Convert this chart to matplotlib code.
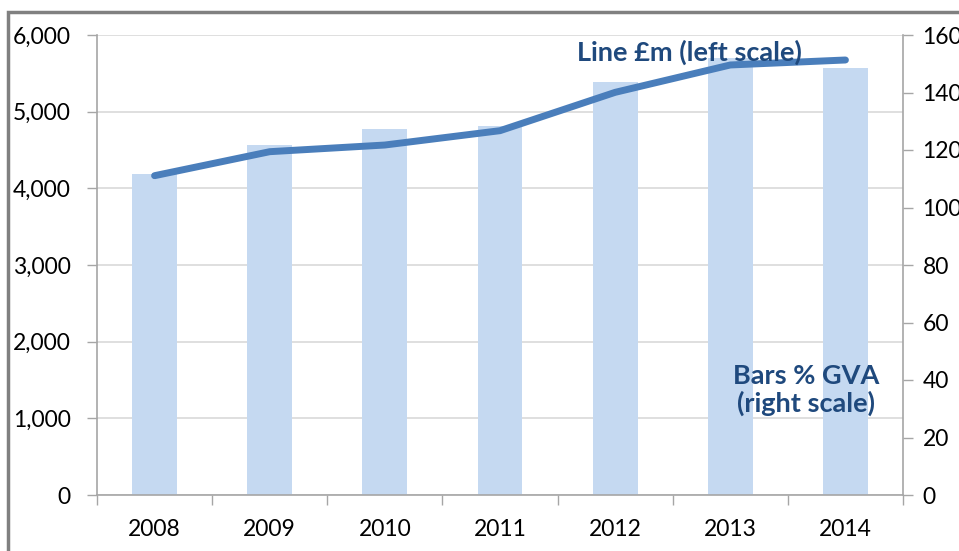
import matplotlib
matplotlib.use("Agg")
import matplotlib.pyplot as plt
from matplotlib.patches import Rectangle
from matplotlib.ticker import FuncFormatter, FixedLocator

plt.rcParams['font.family'] = ['Lato', 'DejaVu Sans']

years = ["2008", "2009", "2010", "2011", "2012", "2013", "2014"]
line_gbp_m = [4165, 4478, 4565, 4752, 5252, 5609, 5674]   # left scale
bars_pct_gva = [111.5, 121.8, 127.2, 128.5, 143.5, 152.0, 148.5]  # right scale

left_ticks = [0, 1000, 2000, 3000, 4000, 5000, 6000]
right_ticks = [0, 20, 40, 60, 80, 100, 120, 140, 160]

W, H = 959, 551
fig = plt.figure(figsize=(W / 100, H / 100), dpi=100)
fig.patch.set_facecolor("white")
pos = [97 / W, (H - 495) / H, 806 / W, 460 / H]

axis_col = "#A6A6A6"
grid_col = "#DCDCDC"
txt_col = "#1F497D"
fs = 16.5

x = list(range(len(years)))

# background grid axes
ax_bg = fig.add_axes(pos)
ax_bg.set_xlim(-0.5, len(years) - 0.5)
ax_bg.set_ylim(0, 6000)
ax_bg.set_yticks(left_ticks)
ax_bg.yaxis.grid(True, color=grid_col, lw=1.3)
ax_bg.tick_params(left=False, bottom=False, labelleft=False, labelbottom=False)
for s in ax_bg.spines.values():
    s.set_visible(False)

# bars axes (right scale)
ax_b = fig.add_axes(pos)
ax_b.patch.set_visible(False)
ax_b.bar(x, bars_pct_gva, width=0.39, color="#C5D9F1", zorder=2)
ax_b.set_xlim(-0.5, len(years) - 0.5)
ax_b.set_ylim(0, 160)
ax_b.yaxis.tick_right()
ax_b.set_yticks(right_ticks)
ax_b.tick_params(axis="y", which="both", direction="out", length=7, width=1,
                 color=axis_col, labelsize=fs, pad=7, labelcolor="#000000")
ax_b.tick_params(axis="x", which="both", bottom=False, labelbottom=False)
for k in ["top", "left", "bottom"]:
    ax_b.spines[k].set_visible(False)
ax_b.spines["right"].set_color(axis_col)
ax_b.spines["right"].set_linewidth(1.2)

# line axes (left scale)
ax = fig.add_axes(pos)
ax.patch.set_visible(False)
ax.plot(x, line_gbp_m, color="#4A7EBB", lw=5.0, solid_capstyle="round",
        solid_joinstyle="round", zorder=3)
ax.set_xlim(-0.5, len(years) - 0.5)
ax.set_ylim(0, 6000)
ax.set_yticks(left_ticks)
ax.yaxis.set_major_formatter(FuncFormatter(lambda v, p: f"{int(v):,}"))
ax.tick_params(axis="y", direction="out", length=7, width=1, color=axis_col,
               labelsize=fs, pad=12, labelcolor="#000000")
ax.xaxis.set_major_locator(FixedLocator([i - 0.5 for i in range(len(years) + 1)]))
ax.xaxis.set_minor_locator(FixedLocator(x))
ax.set_xticklabels([], minor=False)
ax.set_xticklabels(years, minor=True)
ax.tick_params(axis="x", which="major", direction="out", length=7, width=1,
               color=axis_col, labelbottom=False)
ax.tick_params(axis="x", which="minor", length=0, labelsize=fs, pad=17)
for k in ["top", "right"]:
    ax.spines[k].set_visible(False)
for k in ["left", "bottom"]:
    ax.spines[k].set_color(axis_col)
    ax.spines[k].set_linewidth(1.2)

ax.text(0.7345, 0.962, "Line £m (left scale)", transform=ax.transAxes,
        ha="center", va="center", fontsize=19.5, fontweight="bold", color=txt_col,
        zorder=4)
ax.text(0.88, 0.228, "Bars % GVA\n(right scale)", transform=ax.transAxes,
        ha="center", va="center", fontsize=19.5, fontweight="bold", color=txt_col,
        linespacing=1.15, zorder=4)

# outer chart-area frame (cropped)
fig.patches.append(Rectangle((8 / W, -0.2), 1.5, (H - 12) / H + 0.2,
                             transform=fig.transFigure, fill=False,
                             edgecolor="#808080", lw=2.5, clip_on=False))

fig.savefig("out.png", dpi=100)
